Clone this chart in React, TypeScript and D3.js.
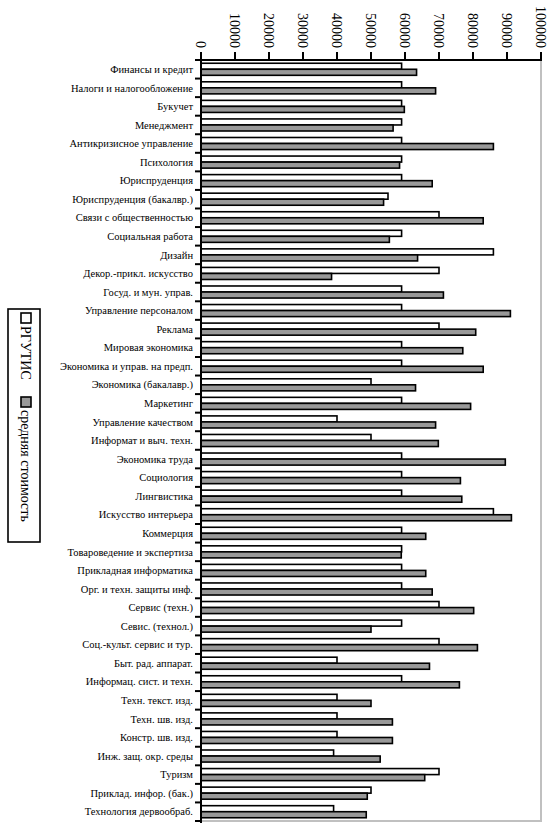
import React, { useEffect, useRef } from 'react';
import * as d3 from 'd3';

const categories = [
    'Финансы и кредит',
    'Налоги и налогообложение',
    'Букучет',
    'Менеджмент',
    'Антикризисное управление',
    'Психология',
    'Юриспруденция',
    'Юриспруденция (бакалвр.)',
    'Связи с общественностью',
    'Социальная работа',
    'Дизайн',
    'Декор.-прикл. искусство',
    'Госуд. и мун. управ.',
    'Управление персоналом',
    'Реклама',
    'Мировая экономика',
    'Экономика и управ. на предп.',
    'Экономика (бакалавр.)',
    'Маркетинг',
    'Управление качеством',
    'Информат и выч. техн.',
    'Экономика труда',
    'Социология',
    'Лингвистика',
    'Искусство интерьера',
    'Коммерция',
    'Товароведение и экспертиза',
    'Прикладная информатика',
    'Орг. и техн. защиты инф.',
    'Сервис (техн.)',
    'Севис. (технол.)',
    'Соц.-культ. сервис и тур.',
    'Быт. рад. аппарат.',
    'Информац. сист. и техн.',
    'Техн. текст. изд.',
    'Техн. шв. изд.',
    'Констр. шв. изд.',
    'Инж. защ. окр. среды',
    'Туризм',
    'Приклад. инфор. (бак.)',
    'Технология дервообраб.',
];

const rgutis = [
    59000, 59000, 59000, 59000, 59000, 59000, 59000, 55000, 70000, 59000,
    86000, 70000, 59000, 59000, 70000, 59000, 59000, 50000, 59000, 40000,
    50000, 59000, 59000, 59000, 86000, 59000, 59000, 59000, 59000, 70000,
    59000, 70000, 40000, 59000, 40000, 40000, 40000, 39000, 70000, 50000, 39000,
];

const avgCost = [
    63400, 69000, 59800, 56500, 86000, 58400, 68000, 53700, 83000, 55400,
    63700, 38400, 71300, 91000, 80800, 77000, 83000, 63100, 79300, 69000,
    69800, 89500, 76300, 76700, 91300, 66100, 58900, 66100, 68000, 80200,
    50000, 81300, 67200, 76000, 50000, 56300, 56300, 52700, 65800, 48900, 48600,
];

const seriesNames = ['РГУТИС', 'средняя стоимость'];
const seriesColors = ['#ffffff', '#999999'];

const ticks = d3.range(0, 100001, 10000);

const width = 550;
const height = 831;

const App: React.FC = () => {
    const ref = useRef<SVGSVGElement>(null);

    useEffect(() => {
        drawChart();
        // eslint-disable-next-line
    }, []);

    const drawChart = () => {
        const svg = d3.select(ref.current);
        svg.selectAll('*').remove();

        const left = 201, right = 541, top = 60, bottom = 821;
        const font = '"Liberation Serif", "Times New Roman", serif';

        const x = d3.scaleLinear().domain([0, 100000]).range([left, right]);
        const y = d3.scaleBand<string>()
            .domain(categories)
            .range([top, bottom])
            .paddingInner(0.35)
            .paddingOuter(0.175);
        const ySub = d3.scaleBand<number>()
            .domain([0, 1])
            .range([0, y.bandwidth()]);

        // plot area border (light gray, right and bottom)
        svg.append('path')
            .attr('d', `M${right},${top}V${bottom}H${left}`)
            .attr('fill', 'none')
            .attr('stroke', '#c0c0c0')
            .attr('stroke-width', 2);

        const rows = svg.append('g')
            .selectAll('g')
            .data(categories)
            .enter()
            .append('g')
            .attr('transform', (d) => `translate(0, ${y(d)})`);

        [rgutis, avgCost].forEach((values, s) => {
            rows.append('rect')
                .attr('x', x(0))
                .attr('y', ySub(s)!)
                .attr('width', (d, i) => x(values[i]) - x(0))
                .attr('height', ySub.bandwidth())
                .attr('fill', seriesColors[s])
                .attr('stroke', '#000')
                .attr('stroke-width', 1.6);
        });

        // category labels
        rows.append('text')
            .attr('x', 193)
            .attr('y', y.bandwidth() / 2)
            .attr('dy', '0.35em')
            .attr('text-anchor', 'end')
            .attr('font-family', font)
            .attr('font-size', 10.5)
            .text((d) => d);

        // category axis
        const yAxis = svg.append('g');
        yAxis.append('line')
            .attr('x1', left).attr('x2', left)
            .attr('y1', top).attr('y2', bottom + 2)
            .attr('stroke', '#000').attr('stroke-width', 2);
        yAxis.selectAll('line.tick')
            .data(d3.range(categories.length + 1))
            .enter()
            .append('line')
            .attr('class', 'tick')
            .attr('x1', left - 6).attr('x2', left)
            .attr('y1', (i) => top + i * y.step())
            .attr('y2', (i) => top + i * y.step())
            .attr('stroke', '#000').attr('stroke-width', 2);

        // value axis on top
        const xAxis = svg.append('g');
        xAxis.append('line')
            .attr('x1', left - 1).attr('x2', right + 1)
            .attr('y1', top).attr('y2', top)
            .attr('stroke', '#000').attr('stroke-width', 2);
        const tick = xAxis.selectAll('g')
            .data(ticks)
            .enter()
            .append('g')
            .attr('transform', (d) => `translate(${x(d)}, 0)`);
        tick.append('line')
            .attr('y1', top - 8).attr('y2', top)
            .attr('stroke', '#000').attr('stroke-width', 2);
        tick.append('text')
            .attr('transform', 'translate(0, 48) rotate(90)')
            .attr('dy', '0.35em')
            .attr('text-anchor', 'end')
            .attr('font-family', font)
            .attr('font-size', 14)
            .text((d) => String(d));

        // legend, rotated like the rest of the chart
        const legend = svg.append('g');
        legend.append('rect')
            .attr('x', 8).attr('y', 309)
            .attr('width', 32).attr('height', 233)
            .attr('fill', '#fff')
            .attr('stroke', '#000').attr('stroke-width', 1.6);
        const entryY = [313, 397];
        seriesNames.forEach((name, s) => {
            legend.append('rect')
                .attr('x', 21).attr('y', entryY[s])
                .attr('width', 10).attr('height', 10)
                .attr('fill', seriesColors[s])
                .attr('stroke', '#000').attr('stroke-width', 1.6);
            legend.append('text')
                .attr('transform', `translate(26, ${entryY[s] + 13}) rotate(90)`)
                .attr('dy', '0.35em')
                .attr('font-family', font)
                .attr('font-size', 14)
                .text(name);
        });
    };

    return (
        <div style={{ position: 'absolute', left: 0, top: 0 }}>
            <svg ref={ref} width={width} height={height}></svg>
        </div>
    );
};

export default App;
